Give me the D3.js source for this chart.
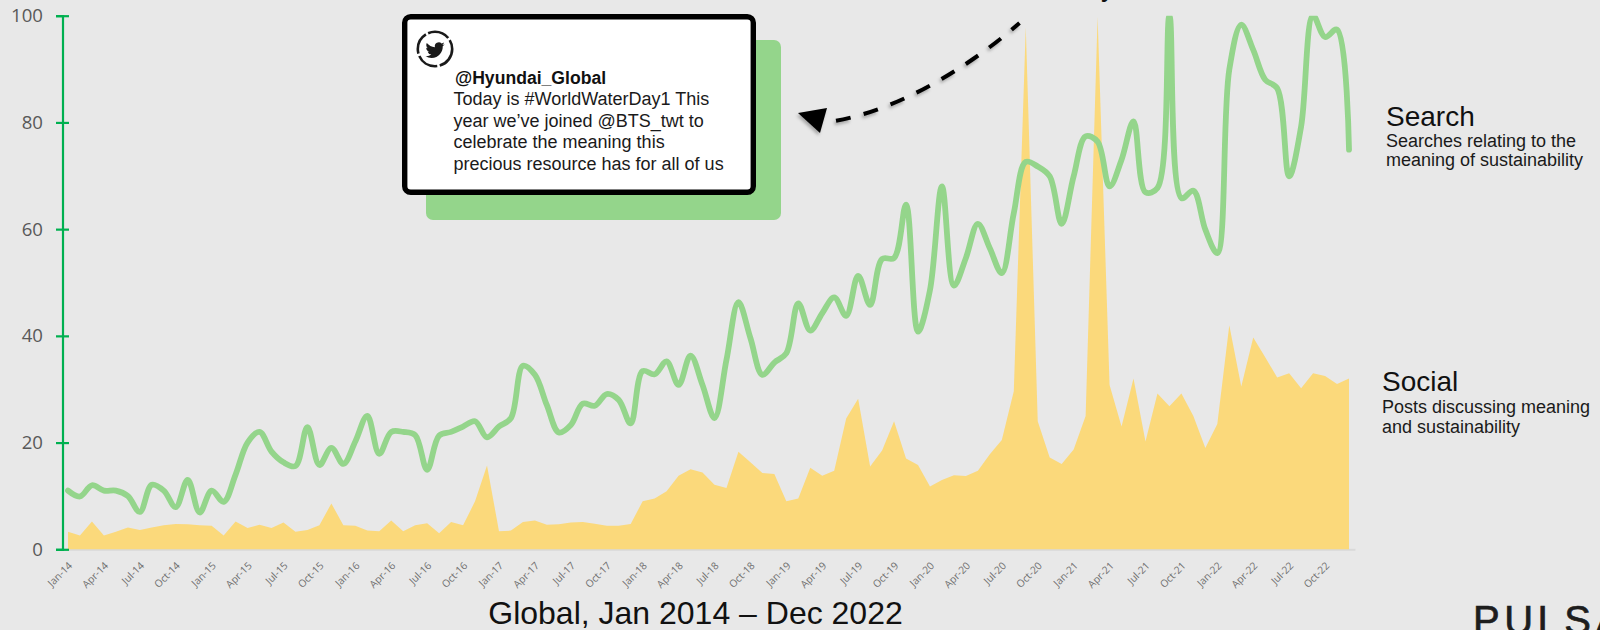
<!DOCTYPE html>
<html>
<head>
<meta charset="utf-8">
<script src="https://cdnjs.cloudflare.com/ajax/libs/d3/7.8.5/d3.min.js"></script>
<style>
html,body{margin:0;padding:0;background:#e8e8e8;overflow:hidden}
svg{display:block}
text{font-family:"Liberation Sans",Arial,sans-serif}
</style>
</head>
<body>
<svg id="chart" width="1600" height="630"></svg>
<script>
const years = ["14","15","16","17","18","19","20","21","22"];
const monthNames = ["Jan","Feb","Mar","Apr","May","Jun","Jul","Aug","Sep","Oct","Nov","Dec"];
const months = years.flatMap(y => monthNames.map(m => m + "-" + y));
const tickLabels = months.filter((m, i) => i % 3 === 0);
const yTicks = [0, 20, 40, 60, 80, 100];

const searchValues = [
  11,9.9,12,11,11,10,7,12.1,11,7.9,13,6.9,
  11,8.9,14,20,22,18.3,16.3,15.6,22.9,15.8,19,16,
  20.2,25,17.9,22,22,21.4,14.9,21.3,22,23,24,21,
  23,24.6,34.4,32.7,27,21.9,23.3,27.3,26.9,29.1,28,23.6,
  33.4,32.8,35.2,30.8,36.3,30.8,24.6,35.5,46.3,39.6,32.7,35,
  36.75,46.1,41,44.25,47.2,43.75,51.25,45.8,54.4,54.6,64.6,40.8,
  48.6,68,49.4,54.6,61,56.4,51.75,63,72.6,71.75,69.9,61,
  69.9,77.4,76.4,68,73,80.2,66.9,67.7,100,65.8,67.2,59.9,
  55.5,89.9,98.3,93.6,88,86.4,69.9,79.25,100,96,97.4,74.9
];
const socialValues = [
  3.3,2.6,5.2,2.6,3.3,4.1,3.6,4.1,4.5,4.75,4.7,4.5,
  4.4,2.6,5.2,4,4.6,4,5,3.3,3.6,4.5,8.6,4.5,
  4.4,3.5,3.4,5.4,3.4,4.5,4.9,3,5.1,4.5,9,15.7,
  3.4,3.5,5.1,5.4,4.6,4.7,5,5.1,4.8,4.4,4.4,4.75,
  9,9.5,10.9,13.8,15,14.4,12.1,11.5,18.3,16.3,14.3,14.1,
  9,9.5,15.3,13.8,14.7,24.5,28.2,15.5,18.5,24,17,15.8,
  11.75,13,13.9,13.75,14.7,17.8,20.5,29.6,97.9,24,17.2,16,
  18.7,25,99.8,30.8,23,32,20.2,29.2,26.8,29.2,25,19,
  23.5,42,30.5,39.7,36,32.2,33,30.2,33,32.5,31,32
];

const tweetHandle = "@Hyundai_Global";
const tweetLines = ["Today is #WorldWaterDay1 This","year we\u2019ve joined @BTS_twt to","celebrate the meaning this","precious resource has for all of us"];
const searchNote = ["Searches relating to the","meaning of sustainability"];
const socialNote = ["Posts discussing meaning","and sustainability"];

const svg = d3.select("#chart");
svg.append("rect").attr("width",1600).attr("height",630).attr("fill","#e8e8e8");

const defs = svg.append("defs");
defs.append("clipPath").attr("id","plot").append("rect")
  .attr("x",40).attr("y",15.7).attr("width",1340).attr("height",540);
const f = defs.append("filter").attr("id","soft").attr("x","-20%").attr("y","-20%").attr("width","140%").attr("height","140%");
f.append("feDropShadow").attr("dx",-1.5).attr("dy",2.5).attr("stdDeviation",1.6).attr("flood-color","#000").attr("flood-opacity",0.28);

const x = d3.scaleBand().domain(months).range([62,1355]);
const cx = m => x(m) + x.bandwidth()/2;
const y = d3.scaleLinear().domain([0,100]).range([549.3,15.7]);

// x axis
const xAxis = svg.append("g").attr("transform","translate(0,549.3)")
  .call(d3.axisBottom(x).tickValues(tickLabels).tickSize(0).tickPadding(0));
xAxis.select(".domain").attr("stroke","#d9d9d9").attr("stroke-width",2);
xAxis.selectAll("text")
  .attr("font-family","'Open Sans',sans-serif").style("font-family","'Open Sans',sans-serif")
  .attr("font-size",10.2).attr("fill","#6e6e6e")
  .attr("text-anchor","end").attr("dy",null).attr("y",0)
  .attr("transform","translate(5,17) rotate(-45)");

const g = svg.append("g").attr("clip-path","url(#plot)");
g.append("path").datum(socialValues)
  .attr("fill","#FBD97B")
  .attr("d", d3.area().x((d,i)=>cx(months[i])).y0(y(0)).y1(d=>y(d)));
g.append("path").datum(searchValues)
  .attr("fill","none").attr("stroke","#94D58B").attr("stroke-width",5.8)
  .attr("stroke-linecap","round").attr("stroke-linejoin","round")
  .attr("d", d3.line().x((d,i)=>cx(months[i])).y(d=>y(d)).curve(d3.curveCatmullRom.alpha(0.5)));

// y axis
const yAxis = svg.append("g").attr("transform","translate(62.5,0)")
  .call(d3.axisLeft(y).tickValues(yTicks).tickSizeOuter(0).tickSize(6.5).tickPadding(13));
yAxis.select(".domain").attr("stroke","#00B050").attr("stroke-width",2.2);
yAxis.selectAll(".tick line").attr("stroke","#00B050").attr("stroke-width",2.2).attr("x1",6.5).attr("x2",-6.5);
yAxis.selectAll("text")
  .style("font-family","'Open Sans',sans-serif").attr("font-size",18.6).attr("fill","#595959");

// tweet card
svg.append("rect").attr("x",426).attr("y",40).attr("width",355).attr("height",180).attr("rx",7).attr("fill","#94D58B");
svg.append("rect").attr("x",404.7).attr("y",16.7).attr("width",348.6).attr("height",175.6).attr("rx",6)
  .attr("fill","#fff").attr("stroke","#000").attr("stroke-width",5.4);

const icon = svg.append("g").attr("transform","translate(435,49)");
icon.append("circle").attr("r",17.2).attr("fill","none").attr("stroke","#1a1a1a").attr("stroke-width",2.6)
  .attr("stroke-dasharray","22 2.5");
icon.append("path").attr("transform","translate(-9.5,-8.5) scale(.8)").attr("fill","#1a1a1a")
  .attr("d","M23.953 4.57a10 10 0 01-2.825.775 4.958 4.958 0 002.163-2.723c-.951.555-2.005.959-3.127 1.184a4.92 4.92 0 00-8.384 4.482C7.69 8.095 4.067 6.13 1.64 3.162a4.822 4.822 0 00-.666 2.475c0 1.71.87 3.213 2.188 4.096a4.904 4.904 0 01-2.228-.616v.06a4.923 4.923 0 003.946 4.827 4.996 4.996 0 01-2.212.085 4.936 4.936 0 004.604 3.417 9.867 9.867 0 01-6.102 2.105c-.39 0-.779-.023-1.17-.067a13.995 13.995 0 007.557 2.209c9.053 0 13.998-7.496 13.998-13.985 0-.21 0-.42-.015-.63A9.935 9.935 0 0024 4.59z");

svg.append("text").text(tweetHandle).attr("x",455).attr("y",84).attr("font-size",17.6).attr("font-weight","bold").attr("fill","#111");
svg.selectAll("text.tw").data(tweetLines).join("text").attr("class","tw")
  .text(d=>d).attr("x",453.5).attr("y",(d,i)=>105+i*21.5).attr("font-size",18).attr("fill","#1a1a1a");

// arrow
const arrow = svg.append("g").attr("filter","url(#soft)");
arrow.append("path")
  .attr("d","M836,120.8 C905,108 975,62 1019.5,23")
  .attr("fill","none").attr("stroke","#000").attr("stroke-width",4)
  .attr("stroke-dasharray","15 13.5");
arrow.append("path").attr("d","M798,113 L827,108 L820,133 Z").attr("fill","#000");

// series notes
svg.append("text").text("Search").attr("x",1386).attr("y",126).attr("font-size",28).attr("fill","#111");
svg.selectAll("text.sn").data(searchNote).join("text").attr("class","sn")
  .text(d=>d).attr("x",1386).attr("y",(d,i)=>146.5+i*19).attr("font-size",18).attr("fill","#1a1a1a");
svg.append("text").text("Social").attr("x",1382).attr("y",391).attr("font-size",28).attr("fill","#111");
svg.selectAll("text.so").data(socialNote).join("text").attr("class","so")
  .text(d=>d).attr("x",1382).attr("y",(d,i)=>412.5+i*20).attr("font-size",18).attr("fill","#1a1a1a");

svg.append("text").text("Global, Jan 2014 \u2013 Dec 2022").attr("x",695.5).attr("y",624)
  .attr("text-anchor","middle").attr("font-size",32).attr("fill","#111");
svg.append("text").text("PULSAR").attr("x",1473).attr("y",634).attr("font-size",40)
  .attr("letter-spacing",4.5).attr("fill","#1d1d1d").attr("stroke","#1d1d1d").attr("stroke-width",0.7);
svg.append("text").text("y").attr("x",1101).attr("y",-4).attr("font-size",28).attr("fill","#111");
</script>
</body>
</html>
